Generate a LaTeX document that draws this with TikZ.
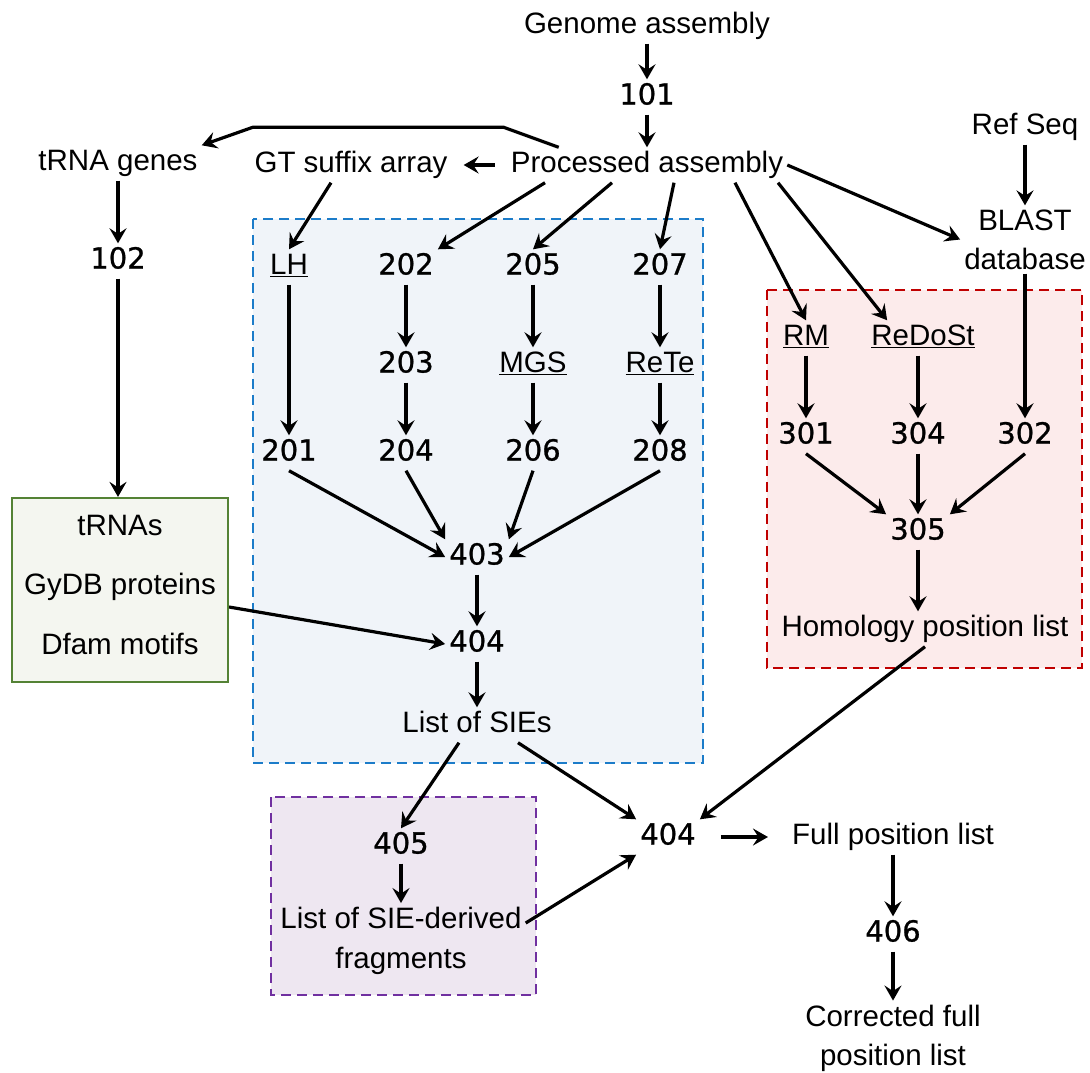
\documentclass[tikz,border=0pt]{standalone}
\usepackage{fontspec}
\setmainfont{Liberation Sans}
\newfontfamily\numfont[FakeBold=0.9]{DejaVu Sans}
\usepackage{tikz}
\usetikzlibrary{positioning,arrows.meta}

\definecolor{blueline}{HTML}{1C7CC9}
\definecolor{bluefill}{HTML}{F0F4F9}
\definecolor{redline}{HTML}{C00000}
\definecolor{redfill}{HTML}{FCEBEB}
\definecolor{purpleline}{HTML}{7030A0}
\definecolor{purplefill}{HTML}{EEE7F1}
\definecolor{greenline}{HTML}{548235}
\definecolor{greenfill}{HTML}{F4F6F0}

\tikzset{
	lbl/.style={font=\fontsize{29.5}{36}\selectfont, inner sep=4pt, text height=21pt, text depth=6pt},
	num/.style={font=\numfont\fontsize{29}{35}\selectfont, inner sep=4pt, text height=21pt, text depth=6pt},
	ml/.style={font=\fontsize{29.5}{36}\selectfont, inner sep=4pt, align=center},
	arr/.style={-{Stealth[length=15pt,width=17pt,inset=5.5pt]}, line width=3.2pt},
	grp/.style={dash pattern=on 10pt off 6pt, line width=2.4pt},
}

\begin{document}
\begin{tikzpicture}[x=1pt, y=-1pt, on grid]
		\useasboundingbox (0,0) rectangle (1090,1072);

		\filldraw[grp, draw=blueline, fill=bluefill] (253,219) rectangle (703,763);
		\filldraw[grp, draw=redline, fill=redfill] (767,290) rectangle (1082,668);
		\filldraw[grp, draw=purpleline, fill=purplefill] (271,797) rectangle (536,995);

		\node[lbl] (genome) at (647,26) {Genome assembly};
		\node[num, below=71pt of genome] (n101) {101};
		\node[lbl, below=68pt of n101] (proc) {Processed assembly};
		\node[lbl, left=296pt of proc] (gtsa) {GT suffix array};
		\node[lbl] (trna) at (118,163) {tRNA genes};
		\node[num, below=98pt of trna] (n102) {102};
		\node[lbl] (refseq) at (1025,127) {Ref Seq};
		\node[ml, below=112.5pt of refseq] (blast) {BLAST\\[3pt]database};

		\node[draw=greenline, fill=greenfill, line width=2.2pt, minimum width=216pt, minimum height=184pt,
			align=center, font=\fontsize{29.5}{36}\selectfont] (sources) at (120,590)
			{tRNAs\\[23.5pt]GyDB proteins\\[23.5pt]Dfam motifs\strut};

		\node[lbl] (lh) at (289,267) {\underline{LH}};
		\node[num] (n202) at (406,267) {202};
		\node[num] (n205) at (533,267) {205};
		\node[num] (n207) at (660,267) {207};
		\node[num, below=98pt of n202] (n203) {203};
		\node[lbl, below=98pt of n205] (mgs) {\underline{MGS}};
		\node[lbl, below=98pt of n207] (rete) {\underline{ReTe}};
		\node[num, below=186pt of lh] (n201) {201};
		\node[num, below=88pt of n203] (n204) {204};
		\node[num, below=88pt of mgs] (n206) {206};
		\node[num, below=88pt of rete] (n208) {208};
		\node[num] (n403) at (477,557) {403};
		\node[num, below=87pt of n403] (n404) {404};
		\node[lbl, below=81pt of n404] (sies) {List of SIEs};

		\node[lbl] (rm) at (806,338) {\underline{RM}};
		\node[lbl] (redost) at (923,338) {\underline{ReDoSt}};
		\node[num, below=98pt of rm] (n301) {301};
		\node[num] (n304) at (918,436) {304};
		\node[num, below=309pt of refseq] (n302) {302};
		\node[num, below=96pt of n304] (n305) {305};
		\node[lbl] (homol) at (925,629) {Homology position list};

		\node[num] (n405) at (401,846) {405};
		\node[ml, below=95pt of n405] (frag) {List of SIE-derived\\[4pt]fragments};

		\node[num] (n404b) at (668,837) {404};
		\node[lbl, right=225pt of n404b] (full) {Full position list};
		\node[num, below=97pt of full] (n406) {406};
		\node[ml, below=104pt of n406] (corr) {Corrected full\\[3pt]position list};

		\draw[arr] (genome) -- (n101);
		\draw[arr] (n101) -- (proc);
		\draw[arr, shorten <=12pt, shorten >=12pt] (proc.west) -- (gtsa.east);
		\draw[arr] ([xshift=52pt]proc.north west) -- ++(-55,-20) -- ++(-251,0) -- (trna.north east);
		\draw[arr] (trna) -- (n102);
		\draw[arr] (n102.south) -- (n102.south |- sources.north);
		\draw[arr] (refseq) -- (blast);
		\draw[arr] (proc.east) -- (blast.west);
		\draw[arr] ([xshift=-20pt]gtsa.south) -- (lh.north);
		\draw[arr] ([xshift=-102pt]proc.south) -- (n202.north east);
		\draw[arr] ([xshift=-35pt]proc.south) -- (n205.north);
		\draw[arr] ([xshift=27pt]proc.south) -- (n207.north);
		\draw[arr] ([xshift=88pt]proc.south) -- (rm.north);
		\draw[arr] ([xshift=131pt]proc.south) -- ([xshift=20pt]redost.north west);

		\draw[arr] (lh) -- (n201);
		\draw[arr] (n202) -- (n203);
		\draw[arr] (n203) -- (n204);
		\draw[arr] (n205) -- (mgs);
		\draw[arr] (mgs) -- (n206);
		\draw[arr] (n207) -- (rete);
		\draw[arr] (rete) -- (n208);
		\draw[arr] (n201.south) -- (n403.west);
		\draw[arr] (n204.south) -- (n403.north west);
		\draw[arr] (n206.south) -- (n403.north east);
		\draw[arr] (n208.south) -- (n403.east);
		\draw[arr] (n403) -- (n404);
		\draw[arr] ([yshift=-17pt]sources.east) -- (n404.west);
		\draw[arr] (n404) -- (sies);

		\draw[arr] (rm) -- (n301);
		\draw[arr] (n304 |- redost.south) -- (n304);
		\draw[arr] (blast) -- (n302);
		\draw[arr] (n301.south) -- (n305.north west);
		\draw[arr] (n304) -- (n305);
		\draw[arr] (n302.south) -- (n305.north east);
		\draw[arr] (n305) -- (n305 |- homol.north);

		\draw[arr] ([xshift=-18pt]sies.south) -- (n405.north);
		\draw[arr] ([xshift=41pt]sies.south) -- (n404b.north west);
		\draw[arr] (homol.south) -- (n404b.north east);
		\draw[arr] (n405) -- (frag);
		\draw[arr] ([yshift=18pt]frag.east) -- (n404b.south west);
		\draw[arr, shorten <=21pt, shorten >=20pt] (n404b.east) -- (full.west);
		\draw[arr] (full) -- (n406);
		\draw[arr] (n406) -- (corr);
	\end{tikzpicture}
\end{document}
